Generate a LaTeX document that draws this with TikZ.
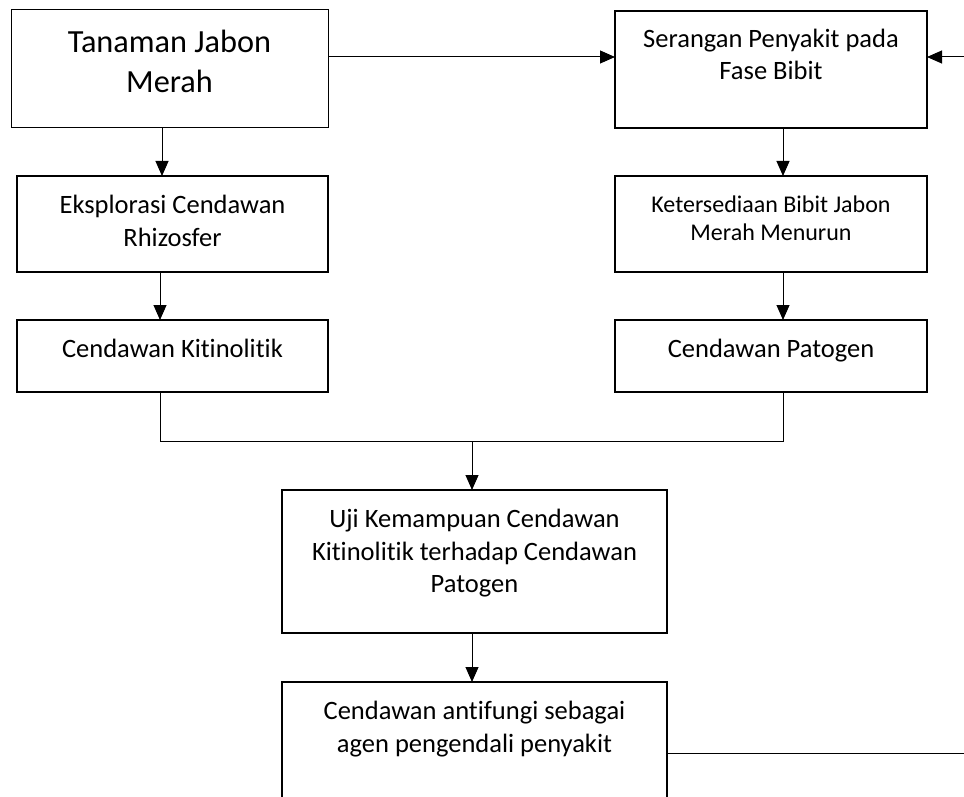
\documentclass[tikz,border=0pt]{standalone}
\usepackage{fontspec}
\setmainfont{Carlito}[Ligatures={NoCommon},RawFeature={-liga;-clig;-dlig}]
\usetikzlibrary{arrows.meta}
\begin{document}
\begin{tikzpicture}[x=1pt,y=-1pt,
  boxthin/.style={draw, line width=1pt, inner sep=0pt, outer sep=0pt},
  boxthick/.style={draw, line width=2pt, inner sep=0pt, outer sep=0pt},
  txt/.style={anchor=base, inner sep=0pt, font=\fontsize{26.5}{32}\selectfont},
  txtbig/.style={anchor=base, inner sep=0pt, font=\fontsize{32.3}{40}\selectfont},
  txtsmall/.style={anchor=base, inner sep=0pt, font=\fontsize{24}{28}\selectfont},
  conn/.style={line width=1pt},
  arr/.style={line width=1pt, -{Triangle[length=15pt,width=13pt]}}]
\useasboundingbox (0,0) rectangle (964,797);
\clip (0,0) rectangle (964,797);
% boxes
\node[boxthin, minimum width=317pt, minimum height=118pt] (b1) at (169.5,69) {};
\node[boxthick, minimum width=312pt, minimum height=117pt] (b2) at (771,69.5) {};
\node[boxthick, minimum width=311pt, minimum height=96pt] (b3) at (172.5,224) {};
\node[boxthick, minimum width=312pt, minimum height=96pt] (b4) at (771,224) {};
\node[boxthick, minimum width=311pt, minimum height=72pt] (b5) at (172.5,356) {};
\node[boxthick, minimum width=312pt, minimum height=72pt] (b6) at (771,356) {};
\node[boxthick, minimum width=385pt, minimum height=143pt] (b7) at (474.5,561.5) {};
\node[boxthick, minimum width=385pt, minimum height=148pt] (b8) at (474.5,756) {};
% texts
\node[txtbig] (t1a) at (169.5,53) {Tanaman Jabon};
\node[txtbig] (t1b) at (169.5,93) {Merah};
\node[txt] (t2a) at (771,48) {Serangan Penyakit pada};
\node[txt] (t2b) at (771,80) {Fase Bibit};
\node[txt] (t3a) at (172.5,213) {Eksplorasi Cendawan};
\node[txt] (t3b) at (172.5,246) {Rhizosfer};
\node[txtsmall] (t4a) at (771,212) {Ketersediaan Bibit Jabon};
\node[txtsmall] (t4b) at (771,240) {Merah Menurun};
\node[txt] (t5) at (172.5,357) {Cendawan Kitinolitik};
\node[txt] (t6) at (771,357) {Cendawan Patogen};
\node[txt] (t7a) at (474.5,527) {Uji Kemampuan Cendawan};
\node[txt] (t7b) at (474.5,560) {Kitinolitik terhadap Cendawan};
\node[txt] (t7c) at (474.5,592) {Patogen};
\node[txt] (t8a) at (474.5,719) {Cendawan antifungi sebagai};
\node[txt] (t8b) at (474.5,752) {agen pengendali penyakit};
% helper coordinates
\coordinate (ytop) at (0,57);
\coordinate (rin) at (964,57);
\coordinate (xa) at (162,0);
\coordinate (xb) at (160,0);
\coordinate (xc) at (783,0);
\coordinate (xm) at (472,0);
\coordinate (ymerge) at (0,441);
\coordinate (rout) at (964,753);
% connectors
\draw[arr] (b1.east |- ytop) -- (b2.west |- ytop);
\draw[arr] (rin) -- (b2.east |- rin);
\draw[arr] (b1.south -| xa) -- (b3.north -| xa);
\draw[arr] (b2.south -| xc) -- (b4.north -| xc);
\draw[arr] (b3.south -| xb) -- (b5.north -| xb);
\draw[arr] (b4.south -| xc) -- (b6.north -| xc);
\draw[conn] (b5.south -| xb) -- (xb |- ymerge) -- (xc |- ymerge) -- (b6.south -| xc);
\draw[arr] (xm |- ymerge) -- (b7.north -| xm);
\draw[arr] (b7.south -| xm) -- (b8.north -| xm);
\draw[conn] (b8.east |- rout) -- (rout);
\end{tikzpicture}
\end{document}
